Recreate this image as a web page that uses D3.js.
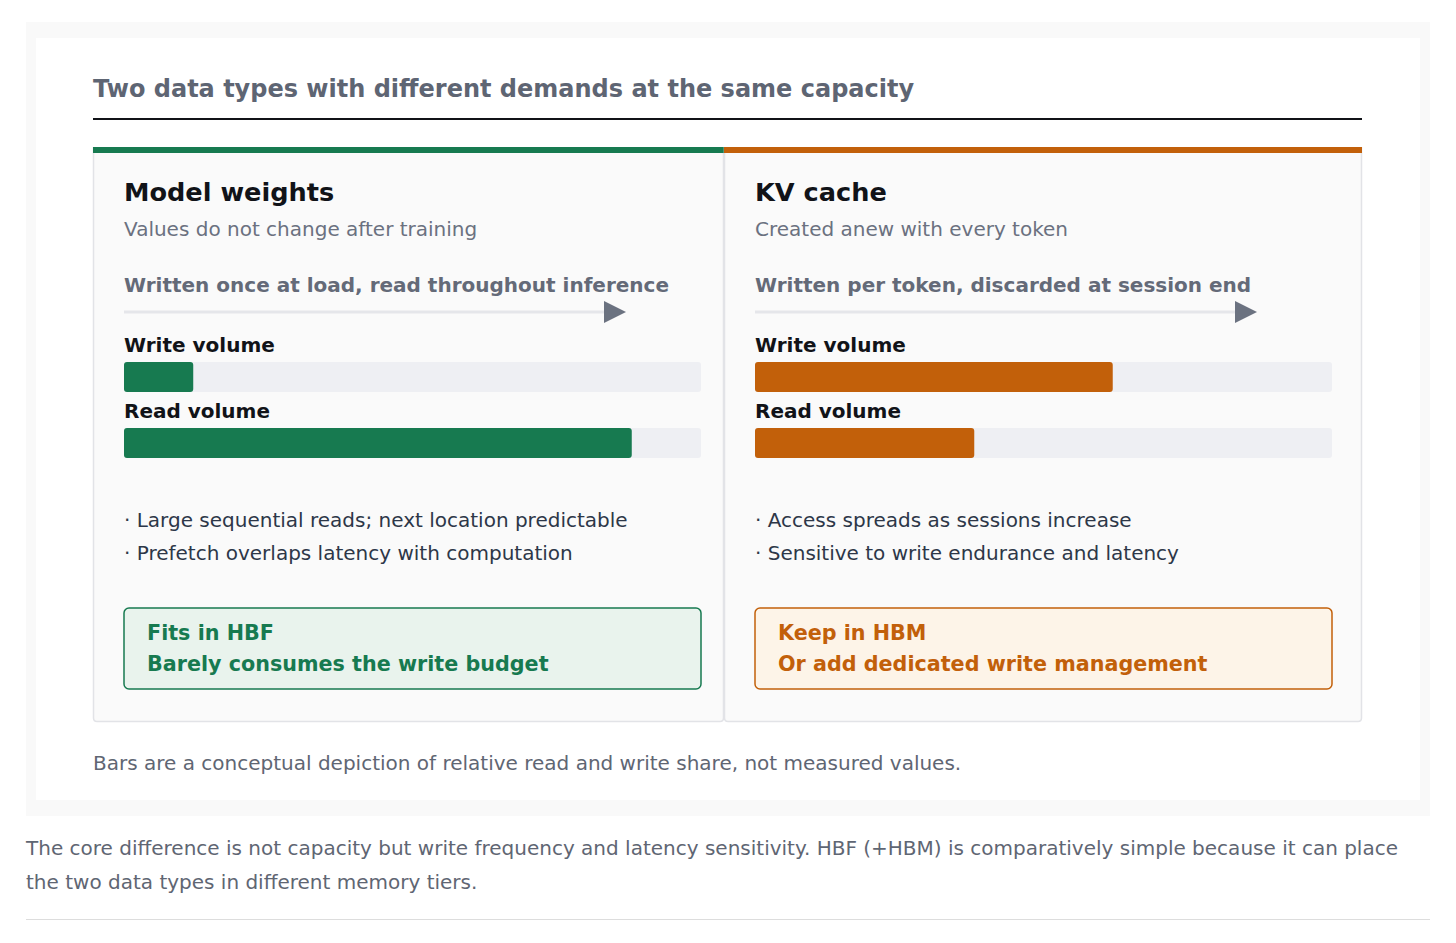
<!DOCTYPE html>
<html>
<head>
<meta charset="utf-8">
<script src="https://cdn.jsdelivr.net/npm/d3@7"></script>
<style>
  html, body { margin: 0; padding: 0; background: #fff; }
  svg { display: block; font-family: "DejaVu Sans", sans-serif; }
</style>
</head>
<body>
<script>
const width = 1456;
const height = 943;

const title = "Two data types with different demands at the same capacity";
const panels = ["Model weights", "KV cache"];
const subtitles = ["Values do not change after training", "Created anew with every token"];
const flows = ["Written once at load, read throughout inference", "Written per token, discarded at session end"];
const metrics = ["Write volume", "Read volume"];
const writeShare = [0.12, 0.62];
const readShare = [0.88, 0.38];
const bullets = [
  ["Large sequential reads; next location predictable", "Prefetch overlaps latency with computation"],
  ["Access spreads as sessions increase", "Sensitive to write endurance and latency"]
];
const verdicts = [
  ["Fits in HBF", "Barely consumes the write budget"],
  ["Keep in HBM", "Or add dedicated write management"]
];
const accent = ["#177a50", "#c2600a"];
const verdictFill = ["#e9f3ed", "#fdf4e8"];
const footnote = "Bars are a conceptual depiction of relative read and write share, not measured values.";
const caption = [
  "The core difference is not capacity but write frequency and latency sensitivity. HBF (+HBM) is comparatively simple because it can place",
  "the two data types in different memory tiers."
];

const svg = d3.select("body").append("svg")
  .attr("width", width)
  .attr("height", height)
  .attr("viewBox", [0, 0, width, height]);

// figure frame
svg.append("rect").attr("x", 26).attr("y", 22).attr("width", 1404).attr("height", 794).attr("fill", "#f9f9f9");
svg.append("rect").attr("x", 36).attr("y", 38).attr("width", 1384).attr("height", 762).attr("fill", "#ffffff");

svg.append("text")
  .attr("x", 93).attr("y", 97)
  .attr("font-size", 24).attr("font-weight", "bold").attr("fill", "#5e6573")
  .text(title);

svg.append("line")
  .attr("x1", 93).attr("x2", 1362).attr("y1", 119).attr("y2", 119)
  .attr("stroke", "#111318").attr("stroke-width", 2);

const panelX = d3.scaleOrdinal(panels, [93, 724]);
const panelW = d3.scaleOrdinal(panels, [631, 638]);
const bar = d3.scaleLinear([0, 1], [0, 577]);
const pad = 31;

const g = svg.selectAll("g.panel")
  .data(panels)
  .join("g")
  .attr("class", "panel")
  .attr("transform", d => `translate(${panelX(d)},147)`);

g.append("path")
  .attr("d", d => {
    const w = panelW(d), h = 575, r = 4;
    return `M0.5,0V${h - r}Q0.5,${h - 0.5} ${r},${h - 0.5}H${w - r}Q${w - 0.5},${h - 0.5} ${w - 0.5},${h - r}V0`;
  })
  .attr("fill", "#fafafa")
  .attr("stroke", "#e2e3e7")
  .attr("stroke-width", 1.5);

g.append("rect")
  .attr("width", d => panelW(d))
  .attr("height", 6)
  .attr("fill", (d, i) => accent[i]);

g.append("text")
  .attr("x", pad).attr("y", 54)
  .attr("font-size", 25.6).attr("font-weight", "bold").attr("fill", "#111318")
  .text(d => d);

g.append("text")
  .attr("x", pad).attr("y", 89)
  .attr("font-size", 20).attr("fill", "#6b7180")
  .text((d, i) => subtitles[i]);

g.append("text")
  .attr("x", pad).attr("y", 145)
  .attr("font-size", 20).attr("font-weight", "bold").attr("fill", "#646a78")
  .text((d, i) => flows[i]);

g.append("line")
  .attr("x1", pad).attr("x2", pad + 482).attr("y1", 165).attr("y2", 165)
  .attr("stroke", "#e5e6ea").attr("stroke-width", 3);

g.append("path")
  .attr("d", `M${pad + 480},154L${pad + 502},165L${pad + 480},176Z`)
  .attr("fill", "#6b7280");

const values = [writeShare, readShare];
metrics.forEach((m, k) => {
  const y0 = 205 + k * 66;
  g.append("text")
    .attr("x", pad).attr("y", y0)
    .attr("font-size", 20).attr("font-weight", "bold").attr("fill", "#111318")
    .text(m);
  g.append("rect")
    .attr("x", pad).attr("y", y0 + 10)
    .attr("width", bar(1)).attr("height", 30).attr("rx", 3)
    .attr("fill", "#eeeff3");
  g.append("rect")
    .attr("x", pad).attr("y", y0 + 10)
    .attr("width", (d, i) => bar(values[k][i])).attr("height", 30).attr("rx", 3)
    .attr("fill", (d, i) => accent[i]);
});

g.each(function(d, i) {
  const p = d3.select(this);
  p.selectAll("text.bullet")
    .data(bullets[i])
    .join("text")
    .attr("class", "bullet")
    .attr("x", pad).attr("y", (b, j) => 380 + j * 33)
    .attr("font-size", 20).attr("fill", "#2d3748")
    .text(b => "· " + b);

  p.append("rect")
    .attr("x", pad).attr("y", 461)
    .attr("width", bar(1)).attr("height", 81).attr("rx", 5)
    .attr("fill", verdictFill[i])
    .attr("stroke", accent[i]).attr("stroke-width", 1.5);

  p.selectAll("text.verdict")
    .data(verdicts[i])
    .join("text")
    .attr("class", "verdict")
    .attr("x", pad + 23).attr("y", (b, j) => 493 + j * 31)
    .attr("font-size", 20.7).attr("font-weight", "bold").attr("fill", accent[i])
    .text(b => b);
});

svg.append("text")
  .attr("x", 93).attr("y", 770)
  .attr("font-size", 20).attr("fill", "#5f6673")
  .text(footnote);

svg.selectAll("text.caption")
  .data(caption)
  .join("text")
  .attr("class", "caption")
  .attr("x", 26).attr("y", (d, i) => 855 + i * 34)
  .attr("font-size", 20).attr("fill", "#5f6673")
  .text(d => d);

svg.append("line")
  .attr("x1", 26).attr("x2", 1430).attr("y1", 919.5).attr("y2", 919.5)
  .attr("stroke", "#dddddd").attr("stroke-width", 1);
</script>
</body>
</html>
